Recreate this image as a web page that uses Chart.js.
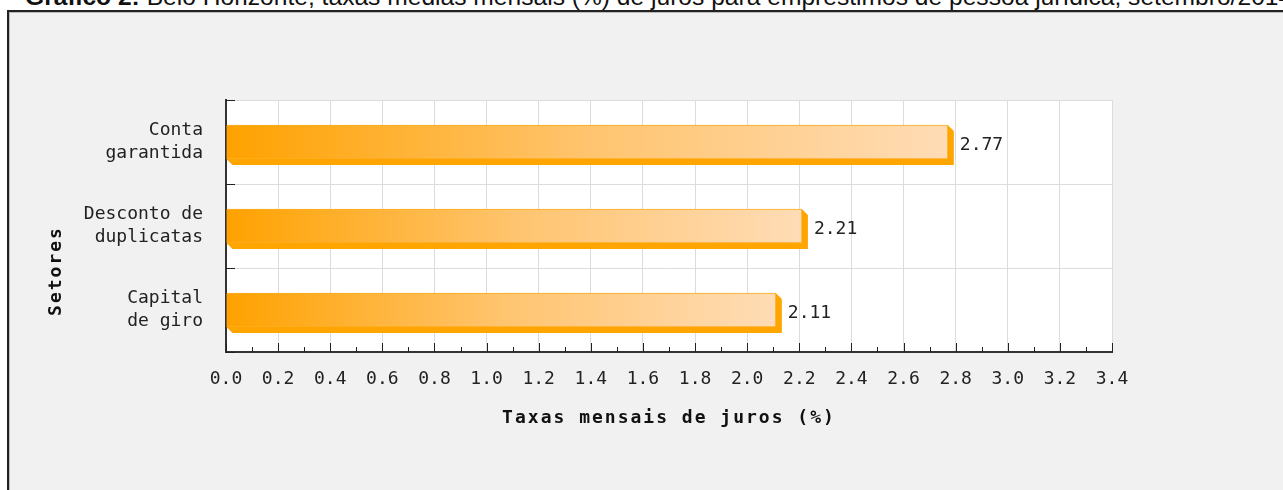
<!DOCTYPE html>
<html><head><meta charset="utf-8">
<script src="https://cdn.jsdelivr.net/npm/chart.js@4.4.1/dist/chart.umd.min.js"></script>
<style>
html,body{margin:0;padding:0;background:#fff;overflow:hidden;width:1283px;height:490px;}
#title{position:absolute;left:25px;top:-15px;font:24.6px/24px "Liberation Sans",Arial,sans-serif;color:#111;white-space:nowrap;z-index:1}
#frame{position:absolute;left:7px;top:10px;width:1400px;height:600px;background:#f1f1f1;border-left:2px solid #222;border-top:2px solid #222;z-index:2;box-shadow:inset 1px 1px 0 #bbb}
#c{position:absolute;left:0;top:0;z-index:3}
</style></head><body>
<div id="title"><b>Gráfico 2:</b> Belo Horizonte, taxas médias mensais (%) de juros para empréstimos de pessoa jurídica, setembro/2014</div>
<div id="frame"></div>
<canvas id="c" width="1283" height="490"></canvas>
<script>
const categories = [["Conta","garantida"],["Desconto de","duplicatas"],["Capital","de giro"]];
const values = [2.77, 2.21, 2.11];
const xMin = 0, xMax = 3.4, xStep = 0.2;
const xTitle = "Taxas mensais de juros (%)";
const yTitle = "Setores";

const MONO = '"DejaVu Sans Mono", "Liberation Mono", monospace';

const decor = {
  id: 'decor',
  beforeDraw(chart) {
    const {ctx, chartArea: a} = chart;
    ctx.letterSpacing = '0px';
    ctx.save();
    ctx.fillStyle = '#ffffff';
    ctx.fillRect(a.left, a.top, a.right - a.left, a.bottom - a.top);
    ctx.restore();
  },
  beforeDatasetsDraw(chart) {
    const ctx = chart.ctx;
    const meta = chart.getDatasetMeta(0);
    const d = 6;
    ctx.save();
    ctx.fillStyle = '#FFA500';
    meta.data.forEach(el => {
      const p = el.getProps(['x','y','base','height'], true);
      const t = p.y - p.height/2, b = p.y + p.height/2;
      ctx.beginPath();
      ctx.moveTo(p.base, b);
      ctx.lineTo(p.base + d, b + d);
      ctx.lineTo(p.x + d, b + d);
      ctx.lineTo(p.x + d, t + d);
      ctx.lineTo(p.x, t);
      ctx.lineTo(p.x, b);
      ctx.closePath();
      ctx.fill();
    });
    ctx.restore();
  },
  afterDraw(chart) {
    const {ctx, chartArea: a, scales: {x, y}} = chart;
    ctx.save();
    ctx.strokeStyle = '#222';
    ctx.lineWidth = 1;
    x.ticks.forEach(t => {
      const px = Math.round(x.getPixelForValue(t.value)) + 0.5;
      ctx.beginPath(); ctx.moveTo(px, a.bottom); ctx.lineTo(px, a.bottom - 9); ctx.stroke();
      const mv = t.value + xStep/2;
      if (mv < xMax) {
        const mx = Math.round(x.getPixelForValue(mv)) + 0.5;
        ctx.beginPath(); ctx.moveTo(mx, a.bottom); ctx.lineTo(mx, a.bottom - 5); ctx.stroke();
      }
    });
    for (let i = 0; i <= categories.length; i++) {
      const py = Math.round(y.getPixelForValue(i - 0.5)) + 0.5;
      ctx.beginPath(); ctx.moveTo(a.left, py); ctx.lineTo(a.left + 9, py); ctx.stroke();
    }
    ctx.fillStyle = '#222';
    ctx.font = '18px ' + MONO;
    ctx.letterSpacing = '0px';
    ctx.textAlign = 'left';
    ctx.textBaseline = 'middle';
    chart.getDatasetMeta(0).data.forEach((el, i) => {
      const p = el.getProps(['x','y'], true);
      ctx.fillText(values[i].toFixed(2), p.x + 12, p.y + 3);
    });
    ctx.fillStyle = '#111';
    ctx.font = 'bold 18px ' + MONO;
    ctx.letterSpacing = '2px';
    ctx.textAlign = 'center';
    ctx.fillText(xTitle, (a.left + a.right)/2, a.bottom + 66);
    ctx.translate(56, a.top + 171);
    ctx.rotate(-Math.PI/2);
    ctx.fillText(yTitle, 0, 0);
    ctx.restore();
  }
};

new Chart(document.getElementById('c'), {
  type: 'bar',
  data: {
    labels: categories,
    datasets: [{
      data: values,
      barThickness: 34,
      borderWidth: 1,
      borderSkipped: 'start',
      borderColor: '#FFAD1F',
      backgroundColor: (c) => {
        const chart = c.chart;
        if (!chart.chartArea || c.type !== 'data') return '#FFA500';
        const xs = chart.scales.x;
        const x0 = xs.getPixelForValue(xMin), x1 = xs.getPixelForValue(c.raw);
        const g = chart.ctx.createLinearGradient(x0, 0, x1, 0);
        g.addColorStop(0, '#FFA200');
        g.addColorStop(0.5, '#FFC46E');
        g.addColorStop(1, '#FFDCB6');
        return g;
      }
    }]
  },
  options: {
    indexAxis: 'y',
    responsive: false,
    animation: false,
    layout: {padding: {left: 0, top: 100, right: 171, bottom: 0}},
    plugins: {legend: {display: false}, tooltip: {enabled: false}},
    scales: {
      x: {
        type: 'linear', min: xMin, max: xMax, position: 'bottom',
        afterFit: s => { s.height = 138; },
        ticks: {stepSize: xStep, callback: v => Number(v).toFixed(1), font: {family: MONO, size: 18}, color: '#222', padding: 17, maxRotation: 0, autoSkip: false},
        grid: {color: '#dcdcdc', drawTicks: false, lineWidth: 1},
        border: {color: '#333', width: 2}
      },
      y: {
        type: 'category',
        afterFit: s => { s.width = 226; },
        ticks: {font: {family: MONO, size: 18, lineHeight: 1.28}, color: '#222', padding: 23},
        grid: {color: '#dcdcdc', offset: true, drawTicks: false, lineWidth: 1},
        border: {color: '#333', width: 2}
      }
    }
  },
  plugins: [decor]
});
</script>
</body></html>
